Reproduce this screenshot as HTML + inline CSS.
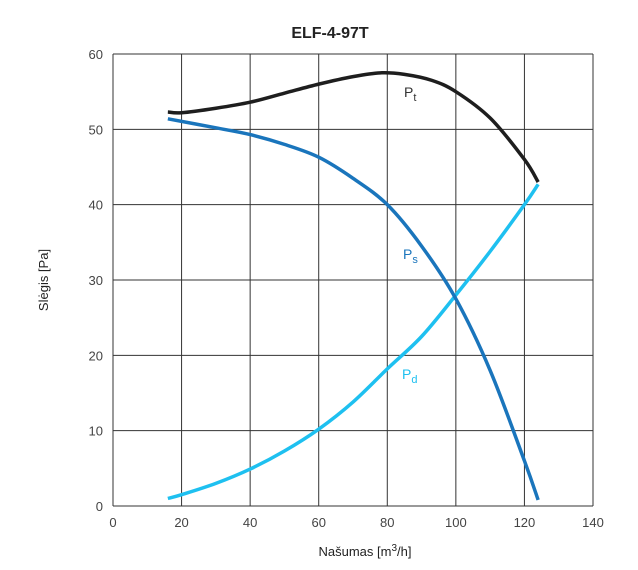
<!DOCTYPE html>
<html><head><meta charset="utf-8"><style>
body{margin:0;background:#fff;}
svg{font-family:"Liberation Sans",sans-serif;}
</style></head><body>
<svg width="638" height="565">
<g id="grid"></g>
<g id="series"></g>
<text x="330" y="38" text-anchor="middle" font-size="16" font-weight="bold" fill="#222">ELF-4-97T</text>
<text x="365" y="556" text-anchor="middle" font-size="13" fill="#222">Našumas [m<tspan dy="-5" font-size="10">3</tspan><tspan dy="5">/h]</tspan></text>
<text transform="translate(48,280) rotate(-90)" text-anchor="middle" font-size="13" fill="#222">Slėgis [Pa]</text>
<text x="404" y="97" font-size="14" fill="#333">P<tspan dy="4" font-size="11">t</tspan></text>
<text x="403" y="259" font-size="14" fill="#1a75bc">P<tspan dy="4" font-size="11">s</tspan></text>
<text x="402" y="379" font-size="14" fill="#1ec0f0">P<tspan dy="4" font-size="11">d</tspan></text>
</svg>
<script>
const xTicks=[0,20,40,60,80,100,120,140];
const yTicks=[0,10,20,30,40,50,60];
const ptX=[16,20,30,40,50,60,70,78,85,93,100,110,120,124];
const ptY=[52.3,52.2,52.8,53.6,54.8,56,57,57.5,57.3,56.5,55,51.5,46,43];
const psX=[16,30,40,50,60,70,80,90,100,110,120,124];
const psY=[51.4,50.2,49.3,48,46.3,43.5,40,34.5,27.5,18,6,0.8];
const pdX=[16,20,30,40,50,60,70,80,90,100,110,120,124];
const pdY=[1,1.5,3,4.9,7.3,10.2,13.8,18.2,22.5,28,33.8,40,42.7];
const X0=113,X1=593,Y0=506,Y1=54;
const sx=v=>X0+(v-0)/(140)*(X1-X0);
const sy=v=>Y0-(v/60)*(Y0-Y1);
const NS="http://www.w3.org/2000/svg";
const g=document.getElementById('grid');
function mk(tag,attrs,parent){const e=document.createElementNS(NS,tag);for(const k in attrs)e.setAttribute(k,attrs[k]);parent.appendChild(e);return e;}
xTicks.forEach(t=>{
 const l=mk('line',{x1:sx(t),x2:sx(t),y1:Y1,y2:Y0,stroke:'#333','stroke-width':1},g);
 
 
 const tx=mk('text',{x:sx(t),y:527,'text-anchor':'middle','font-size':13,fill:'#444'},g);
 tx.textContent=t;
 
 
});
yTicks.forEach(t=>{
 const l=mk('line',{x1:X0,x2:X1,y1:sy(t),y2:sy(t),stroke:'#333','stroke-width':1},g);
 
 
 const tx=mk('text',{x:103,y:sy(t)+5,'text-anchor':'end','font-size':13,fill:'#444'},g);
 tx.textContent=t;
 
 
});
function path(xs,ys){
 const p=xs.map((x,i)=>[sx(x),sy(ys[i])]);
 let d='M'+p[0][0]+','+p[0][1];
 for(let i=0;i<p.length-1;i++){
  const p0=p[i-1]||p[i],p1=p[i],p2=p[i+1],p3=p[i+2]||p2;
  const c1=[p1[0]+(p2[0]-p0[0])/6,p1[1]+(p2[1]-p0[1])/6];
  const c2=[p2[0]-(p3[0]-p1[0])/6,p2[1]-(p3[1]-p1[1])/6];
  d+=' C'+c1+' '+c2+' '+p2;
 }
 return d;
}
const s=document.getElementById('series');
const a=mk('path',{d:path(pdX,pdY),fill:'none',stroke:'#1ec0f0','stroke-width':3.5},s);


const b=mk('path',{d:path(psX,psY),fill:'none',stroke:'#1a75bc','stroke-width':3.5},s);


const c=mk('path',{d:path(ptX,ptY),fill:'none',stroke:'#1e1e1e','stroke-width':3.5},s);


</script>
</body></html>
